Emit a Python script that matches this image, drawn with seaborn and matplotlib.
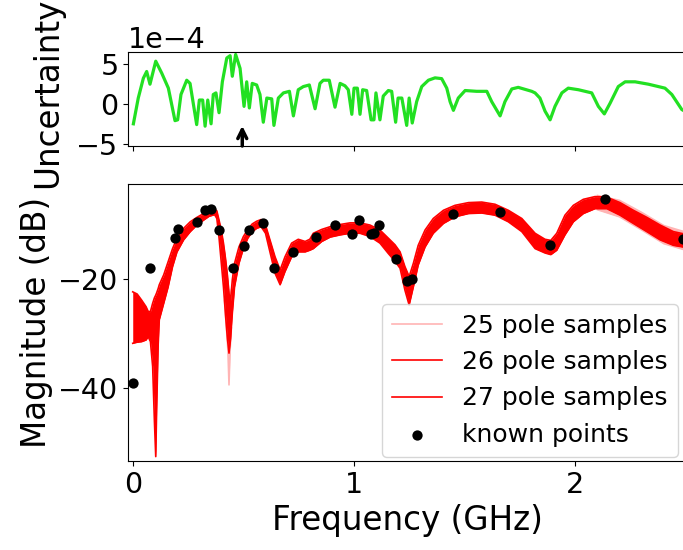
import numpy as np
import pandas as pd
import matplotlib
matplotlib.use("Agg")
import matplotlib.pyplot as plt
import seaborn as sns

# ---------------- data ----------------
# uncertainty curve (units of 1e-4)
unc_freq = [0.003, 0.025, 0.048, 0.063, 0.078, 0.104, 0.131, 0.161, 0.191, 0.203,
            0.218, 0.244, 0.259, 0.289, 0.301, 0.316, 0.327, 0.339, 0.354, 0.364,
            0.376, 0.390, 0.405, 0.425, 0.440, 0.450, 0.465, 0.485, 0.503, 0.515,
            0.527, 0.540, 0.560, 0.575, 0.590, 0.606, 0.628, 0.638, 0.658, 0.681,
            0.708, 0.726, 0.748, 0.771, 0.798, 0.824, 0.846, 0.861, 0.888, 0.914,
            0.937, 0.959, 0.974, 0.990, 1.000, 1.015, 1.027, 1.039, 1.057, 1.077,
            1.090, 1.099, 1.117, 1.132, 1.155, 1.170, 1.188, 1.199, 1.216, 1.238,
            1.249, 1.263, 1.283, 1.306, 1.336, 1.366, 1.396, 1.419, 1.434, 1.449,
            1.471, 1.502, 1.554, 1.600, 1.622, 1.660, 1.682, 1.713, 1.742, 1.803,
            1.818, 1.840, 1.863, 1.886, 1.908, 1.939, 1.968, 2.014, 2.074, 2.104,
            2.131, 2.157, 2.194, 2.225, 2.270, 2.330, 2.405, 2.436, 2.481, 2.500]
unc_e4 = [-2.5, 0.75, 3.25, 4.1, 2.5, 5.4, 3.9, 2.0, -2.1, -2.0,
          1.2, 3.0, 2.6, -2.6, 0.5, 0.5, -2.8, 0.5, -2.5, 1.2,
          1.4, -1.1, 2.8, 5.8, 6.1, 3.5, 6.25, 4.5, -0.3, 2.8,
          -0.5, 2.6, 2.4, 1.2, -2.3, 0.75, 0.65, -2.7, 0.75, 1.4,
          1.6, -1.5, 1.8, 2.2, 2.4, -0.6, 2.6, 3.0, 3.0, -0.4,
          2.6, 2.3, 1.8, -1.3, 2.0, 2.0, -1.3, 1.8, 1.7, -2.0,
          -2.0, 1.4, -2.0, 1.0, 1.7, 1.6, -2.3, 0.75, 0.75, -2.7,
          0.75, -2.4, 0.3, 2.2, 3.0, 3.3, 3.2, 2.0, 0.3, -0.8,
          0.75, 1.7, 1.6, 1.6, 0.3, -1.5, 0.3, 1.9, 2.1, 1.6,
          1.4, 0.75, -0.9, -2.0, -0.3, 1.4, 2.0, 1.8, 1.4, -0.3,
          -1.25, 0.1, 2.2, 2.8, 2.8, 2.5, 2.0, 1.2, -0.7, -1.0]
arrow_freq = 0.495

# magnitude band of the 26/27 pole samples (dB)
mag_freq = [0.000, 0.020, 0.040, 0.060, 0.070, 0.080, 0.090, 0.098, 0.104, 0.108,
            0.115, 0.120, 0.140, 0.160, 0.180, 0.200, 0.230, 0.260, 0.290, 0.320,
            0.345, 0.370, 0.380, 0.390, 0.400, 0.410, 0.420, 0.428, 0.435, 0.442,
            0.450, 0.460, 0.480, 0.500, 0.520, 0.540, 0.560, 0.580, 0.600, 0.620,
            0.643, 0.666, 0.688, 0.718, 0.748, 0.779, 0.800, 0.816, 0.854, 0.892,
            0.937, 0.982, 1.027, 1.072, 1.117, 1.155, 1.185, 1.208, 1.230, 1.249,
            1.268, 1.290, 1.321, 1.358, 1.404, 1.456, 1.517, 1.577, 1.637, 1.697,
            1.758, 1.818, 1.863, 1.889, 1.916, 1.953, 1.991, 2.036, 2.089, 2.142,
            2.202, 2.262, 2.323, 2.383, 2.443, 2.500]
red_upper = [-22.4, -22.8, -23.9, -25.1, -26.0, -26.0, -24.5, -23.5, -23.0, -22.6,
             -21.8, -21.1, -19.3, -16.9, -14.5, -12.6, -10.8, -9.6, -8.8, -8.1,
             -7.6, -7.3, -7.6, -9.3, -11.1, -13.5, -16.6, -19.5, -22.7, -24.0,
             -20.2, -17.2, -14.2, -12.3, -11.0, -10.0, -9.5, -9.2, -10.2, -12.9,
             -16.0, -18.4, -16.0, -13.5, -12.8, -13.2, -12.8, -11.7, -11.0, -10.5,
             -10.1, -9.8, -9.8, -10.2, -11.1, -12.6, -13.8, -15.1, -17.8, -19.6,
             -17.2, -13.9, -11.1, -9.0, -7.5, -6.6, -6.1, -6.0, -6.4, -7.5,
             -9.0, -11.7, -12.8, -13.0, -11.7, -8.4, -6.6, -5.5, -5.0, -5.1,
             -6.1, -7.5, -8.8, -10.2, -11.4, -11.9]
red_lower = [-31.8, -31.6, -31.5, -31.2, -30.6, -31.5, -36.0, -46.0, -52.5, -44.0,
             -32.0, -27.5, -24.5, -21.5, -17.8, -15.1, -12.9, -11.4, -10.2, -9.3,
             -8.6, -8.3, -9.0, -12.5, -17.0, -21.5, -27.0, -31.0, -33.6, -31.0,
             -26.3, -21.5, -17.2, -14.5, -12.6, -11.4, -10.8, -10.5, -11.7, -15.1,
             -19.0, -21.1, -18.7, -16.0, -15.1, -15.1, -14.8, -14.5, -13.2, -12.4,
             -12.0, -11.7, -11.7, -12.3, -13.5, -15.4, -16.8, -18.1, -22.1, -24.8,
             -21.5, -17.5, -14.2, -11.7, -9.9, -8.7, -8.1, -8.0, -8.4, -9.6,
             -11.4, -14.5, -15.3, -15.6, -14.8, -12.0, -9.6, -8.1, -7.2, -7.2,
             -8.4, -9.9, -11.4, -12.9, -13.9, -14.3]

# where the 25 pole samples reach beyond the others
pink_freq_a = [0.415, 0.425, 0.430, 0.435, 0.440, 0.446]
pink_upper_a = [-15.0, -18.5, -20.5, -22.5, -23.5, -22.0]
pink_lower_a = [-24.0, -30.0, -33.0, -39.4, -33.0, -29.0]
pink_freq_b = [2.10, 2.20, 2.30, 2.40, 2.50]
pink_upper_b = [-4.8, -5.7, -7.9, -10.3, -11.5]
pink_lower_b = [-7.4, -8.7, -11.1, -13.6, -14.8]

# known points
known_freq = [0.003, 0.078, 0.191, 0.203, 0.289, 0.327, 0.354, 0.390, 0.452, 0.501,
              0.527, 0.589, 0.638, 0.726, 0.828, 0.914, 0.990, 1.024, 1.075, 1.090,
              1.114, 1.189, 1.238, 1.264, 1.449, 1.660, 1.886, 2.134, 2.487]
known_db = [-39.1, -18.1, -12.6, -11.0, -9.7, -7.5, -7.3, -11.1, -18.1, -14.0,
            -11.1, -9.8, -18.1, -15.2, -12.4, -10.1, -11.8, -9.3, -11.8, -11.6,
            -10.1, -16.4, -20.4, -20.1, -8.1, -7.8, -13.9, -5.5, -12.8]

labels = ["25 pole samples", "26 pole samples", "27 pole samples", "known points"]
pink = "#ffb4b4"
red = "#ff0000"
green = "#22e022"

# ---------------- figure ----------------
W, H = 683, 550
fig = plt.figure(figsize=(W / 100, H / 100), dpi=100)
left = 128.3 / W
width = (686 - 128.3) / W
ax_top = fig.add_axes([left, 1 - 146 / H, width, (146 - 51.7) / H])
ax = fig.add_axes([left, 1 - 461 / H, width, (461 - 184) / H])

TICK = 20.5
LAB = 23.5

# top: uncertainty
unc = np.array(unc_e4) * 1e-4
sns.lineplot(x=unc_freq, y=unc, ax=ax_top, color=green, lw=2.3)
ax_top.set_xlim(-0.02, 2.5)
ax_top.set_ylim(-5.3e-4, 6.6e-4)
ax_top.set_xticks([0, 1, 2])
ax_top.set_yticks([-5e-4, 0, 5e-4])
ax_top.ticklabel_format(axis="y", style="sci", scilimits=(0, 0))
ax_top.tick_params(labelbottom=False, labelsize=TICK)
ax_top.set_ylabel("Uncertainty", fontsize=LAB, labelpad=9)
ax_top.yaxis.label.set_y(0.56)
ax_top.yaxis.get_offset_text().set_fontsize(TICK)
ax_top.annotate("", xy=(arrow_freq, -2.75e-4), xytext=(arrow_freq, -5.3e-4),
                arrowprops=dict(arrowstyle="->", lw=2.5, color="black",
                                mutation_scale=16, shrinkA=0, shrinkB=0))

# bottom: magnitude samples
rows = []
for f, v in zip(pink_freq_a, pink_upper_a):
    rows.append((f, v, labels[0], "a_up"))
for f, v in zip(pink_freq_a, pink_lower_a):
    rows.append((f, v, labels[0], "a_lo"))
for f, v in zip(pink_freq_b, pink_upper_b):
    rows.append((f, v, labels[0], "b_up"))
for f, v in zip(pink_freq_b, pink_lower_b):
    rows.append((f, v, labels[0], "b_lo"))
for f, v in zip(mag_freq, red_upper):
    rows.append((f, v, labels[1], "up"))
for f, v in zip(mag_freq, red_lower):
    rows.append((f, v, labels[2], "lo"))
df = pd.DataFrame(rows, columns=["freq", "db", "group", "edge"])

ax.fill_between(pink_freq_a, pink_lower_a, pink_upper_a, color=pink, lw=0, zorder=1)
ax.fill_between(pink_freq_b, pink_lower_b, pink_upper_b, color=pink, lw=0, zorder=1)
sns.lineplot(data=df, x="freq", y="db", hue="group", units="edge", estimator=None,
             palette={labels[0]: pink, labels[1]: red, labels[2]: red},
             lw=1.2, ax=ax, sort=False, zorder=2)
ax.fill_between(mag_freq, red_lower, red_upper, color=red, lw=0, zorder=3)
sns.scatterplot(x=known_freq, y=known_db, ax=ax, color="black", s=55,
                linewidth=0, label=labels[3], zorder=5)

ax.set_xlim(-0.02, 2.5)
ax.set_ylim(-53.3, -2.7)
ax.set_xticks([0, 1, 2])
ax.set_yticks([-40, -20])
ax.tick_params(labelsize=TICK)
ax.set_xlabel("Frequency (GHz)", fontsize=LAB)
ax.set_ylabel("Magnitude (dB)", fontsize=LAB)

handles, labs = ax.get_legend_handles_labels()
hmap = dict(zip(labs, handles))
leg = ax.legend([hmap[l] for l in labels], labels, loc="lower right", fontsize=18,
                bbox_to_anchor=(678 / W, 1 - 457 / H), bbox_transform=fig.transFigure,
                borderaxespad=0)
for h in leg.legend_handles[:3]:
    h.set_linewidth(1.2)

fig.savefig("out.png", dpi=100)
